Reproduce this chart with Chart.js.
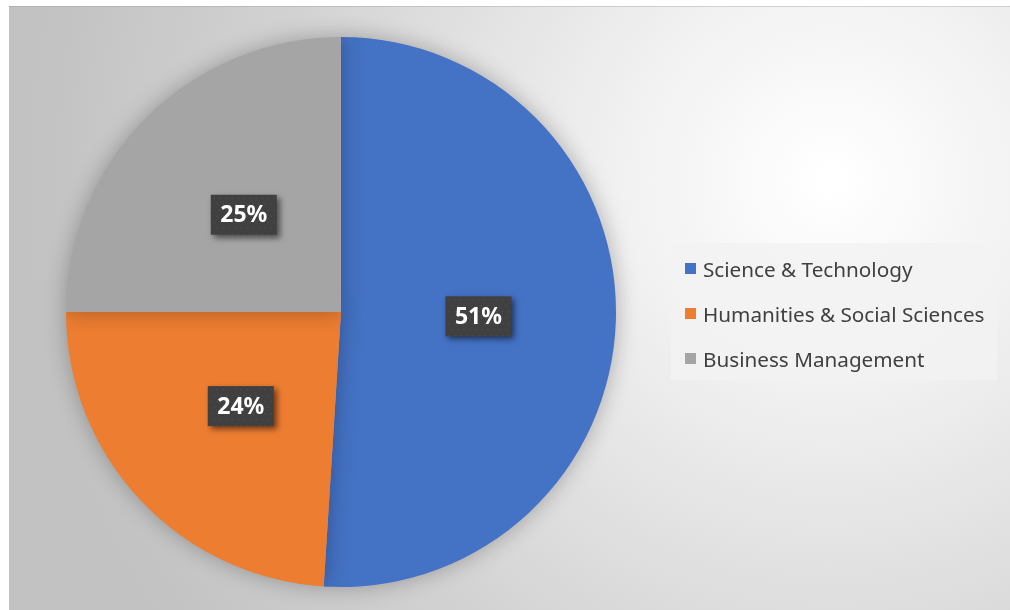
<!DOCTYPE html>
<html>
<head>
<meta charset="utf-8">
<script src="https://cdn.jsdelivr.net/npm/chart.js@4"></script>
<style>
  html, body { margin: 0; padding: 0; background: #fff; }
  #wrap { width: 1010px; height: 610px; }
</style>
</head>
<body>
<div id="wrap"><canvas id="pie"></canvas></div>
<script>
// 数据
const categories = ['Science & Technology', 'Humanities & Social Sciences', 'Business Management'];
const shares = [51, 24, 25];
const sliceColors = ['#4472C4', '#ED7D31', '#A5A5A5'];

// 背景：径向渐变
const backgroundPlugin = {
    id: 'bg',
    beforeDraw(chart) {
        const ctx = chart.ctx;
        ctx.save();
        ctx.fillStyle = '#ffffff';
        ctx.fillRect(0, 0, chart.width, chart.height);
        const g = ctx.createRadialGradient(830, 180, 10, 830, 180, 800);
        g.addColorStop(0, '#ffffff');
        g.addColorStop(0.25, '#f1f1f1');
        g.addColorStop(0.7, '#d2d2d2');
        g.addColorStop(1, '#c2c2c2');
        ctx.fillStyle = g;
        ctx.fillRect(9, 6, chart.width - 9, chart.height - 6);
        ctx.strokeStyle = 'rgba(150,150,150,0.35)';
        ctx.beginPath();
        ctx.moveTo(9, 6.5);
        ctx.lineTo(chart.width, 6.5);
        ctx.stroke();
        ctx.restore();
    }
};

// 饼图阴影
const shadowPlugin = {
    id: 'pieShadow',
    beforeDatasetsDraw(chart) {
        const ctx = chart.ctx;
        ctx.save();
        ctx.shadowColor = 'rgba(0,0,0,0.28)';
        ctx.shadowBlur = 22;
        ctx.shadowOffsetX = 0;
        ctx.shadowOffsetY = 0;
    },
    afterDatasetsDraw(chart) {
        chart.ctx.restore();
    }
};

// 百分比标签
const labelPlugin = {
    id: 'pctLabels',
    afterDatasetsDraw(chart) {
        const ctx = chart.ctx;
        const meta = chart.getDatasetMeta(0);
        const total = shares.reduce((a, b) => a + b, 0);
        ctx.save();
        ctx.font = 'bold 23px "Noto Sans", sans-serif';
        ctx.textAlign = 'center';
        ctx.textBaseline = 'middle';
        meta.data.forEach((arc, i) => {
            const p = arc.tooltipPosition();
            const text = Math.round(shares[i] / total * 100) + '%';
            const w = 66, h = 40;
            const x = p.x - w / 2, y = p.y - h / 2;
            // 阴影框
            ctx.save();
            ctx.shadowColor = 'rgba(0,0,0,0.55)';
            ctx.shadowBlur = 6;
            ctx.shadowOffsetX = 3;
            ctx.shadowOffsetY = 3;
            ctx.fillStyle = '#404040';
            ctx.fillRect(x, y, w, h);
            ctx.restore();
            // 点状纹理
            ctx.fillStyle = 'rgba(90,90,90,0.9)';
            for (let yy = y + 3; yy < y + h; yy += 6) {
                for (let xx = x + 3 + ((yy - y) % 12 === 3 ? 0 : 3); xx < x + w; xx += 6) {
                    ctx.fillRect(xx, yy, 1, 1);
                }
            }
            ctx.fillStyle = '#ffffff';
            ctx.fillText(text, p.x, p.y + 1);
        });
        ctx.restore();
    }
};

// 图例
const legendPlugin = {
    id: 'sideLegend',
    afterDraw(chart) {
        const ctx = chart.ctx;
        const bx = 671, by = 243, bw = 326, bh = 137;
        ctx.save();
        ctx.fillStyle = 'rgba(242,242,242,0.85)';
        ctx.fillRect(bx, by, bw, bh);
        ctx.font = '20.7px "Noto Sans", sans-serif';
        ctx.textBaseline = 'middle';
        ctx.textAlign = 'left';
        categories.forEach((name, i) => {
            const cy = 270 + i * 45;
            ctx.fillStyle = sliceColors[i];
            ctx.fillRect(685, cy - 7, 11, 11);
            ctx.fillStyle = '#404040';
            ctx.fillText(name, 703, cy + 1);
        });
        ctx.restore();
    }
};

new Chart(document.getElementById('pie'), {
    type: 'pie',
    data: {
        labels: categories,
        datasets: [{
            data: shares,
            backgroundColor: sliceColors,
            borderWidth: 0
        }]
    },
    options: {
        responsive: true,
        maintainAspectRatio: false,
        animation: false,
        layout: {
            padding: { left: 66, top: 37, right: 394, bottom: 23 }
        },
        plugins: {
            legend: { display: false },
            tooltip: { enabled: false }
        }
    },
    plugins: [backgroundPlugin, shadowPlugin, labelPlugin, legendPlugin]
});
</script>
</body>
</html>
